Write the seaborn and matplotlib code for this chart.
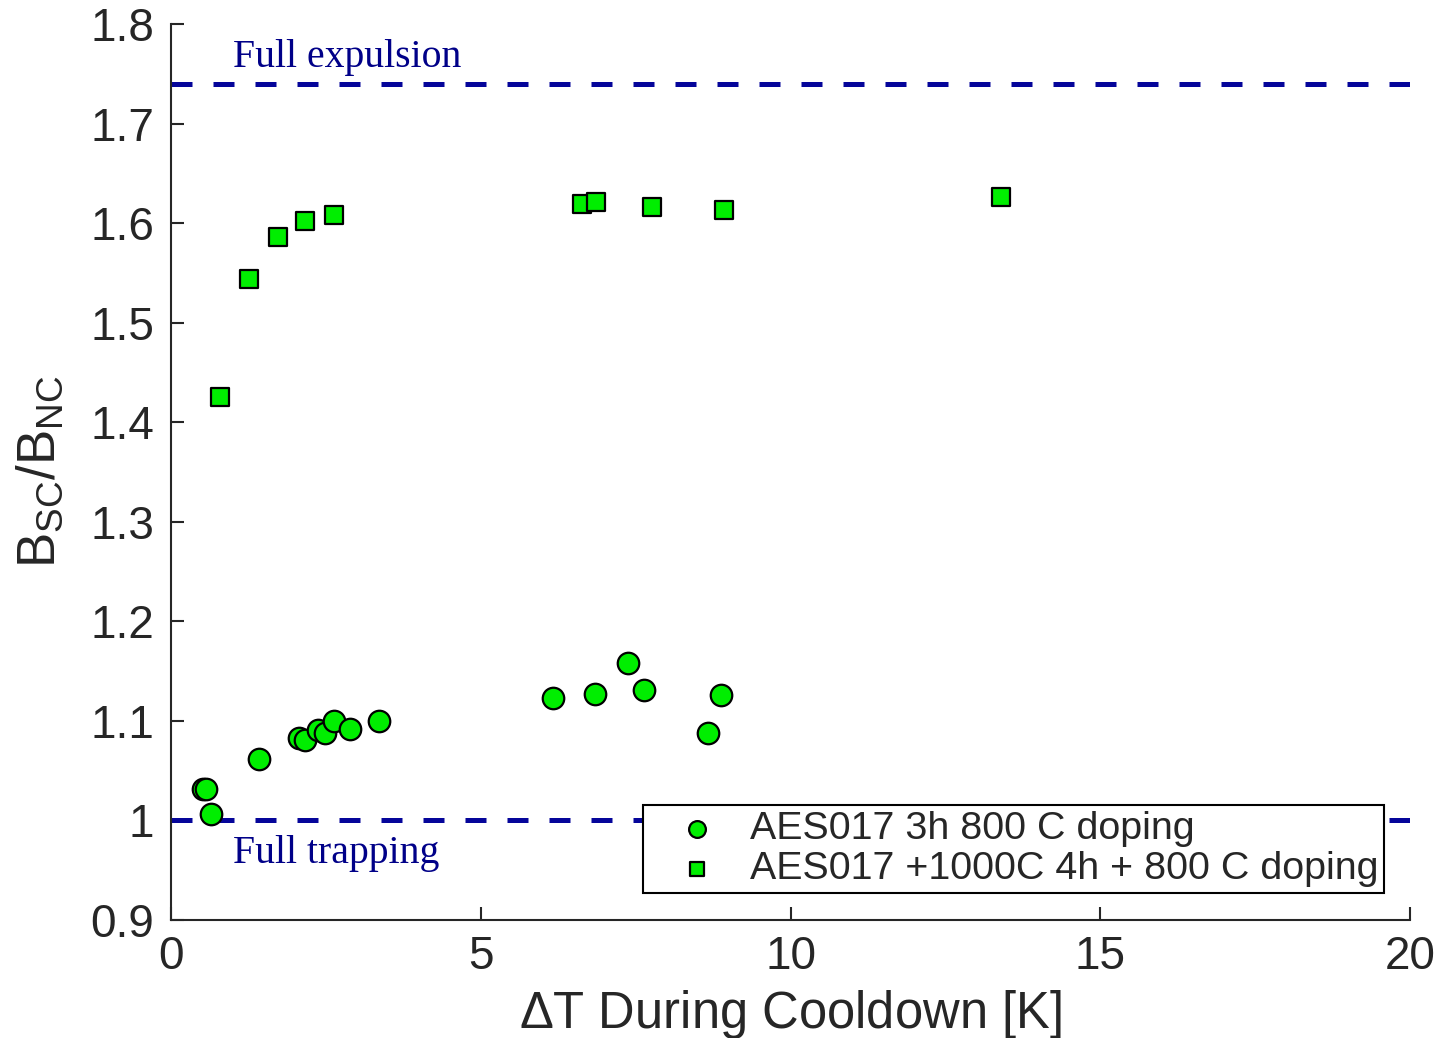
import matplotlib
matplotlib.use("Agg")
import matplotlib.pyplot as plt
import seaborn as sns
import pandas as pd

# Measurements: field ratio vs. temperature difference during cooldown
dt_3h = [0.52, 0.57, 0.65, 1.42, 2.07, 2.16, 2.37, 2.49, 2.63, 2.89, 3.36,
         6.16, 6.85, 7.37, 7.63, 8.66, 8.88]
ratio_3h = [1.032, 1.032, 1.006, 1.062, 1.083, 1.081, 1.091, 1.088, 1.100, 1.092, 1.100,
            1.123, 1.127, 1.158, 1.131, 1.088, 1.126]

dt_1000c = [0.79, 1.26, 1.73, 2.16, 2.63, 6.63, 6.86, 7.76, 8.92, 13.40]
ratio_1000c = [1.425, 1.544, 1.586, 1.602, 1.608, 1.619, 1.621, 1.616, 1.613, 1.626]

label_3h = "AES017 3h 800 C doping"
label_1000c = "AES017 +1000C 4h + 800 C doping"

full_expulsion = 1.74
full_trapping = 1.0

x_ticks = [0, 5, 10, 15, 20]
y_ticks = [0.9, 1.0, 1.1, 1.2, 1.3, 1.4, 1.5, 1.6, 1.7, 1.8]
y_tick_labels = ["0.9", "1", "1.1", "1.2", "1.3", "1.4", "1.5", "1.6", "1.7", "1.8"]

sns.set_style("ticks")
plt.rcParams["font.family"] = ["Liberation Sans", "DejaVu Sans"]
plt.rcParams["mathtext.fontset"] = "custom"
plt.rcParams["mathtext.rm"] = "Liberation Sans"
plt.rcParams["mathtext.it"] = "Liberation Sans"

axis_color = "#262626"
line_blue = "#05059a"
text_blue = "#000088"
green = "#00ee00"

df_3h = pd.DataFrame({"dt": dt_3h, "ratio": ratio_3h})
df_1000c = pd.DataFrame({"dt": dt_1000c, "ratio": ratio_1000c})

fig = plt.figure(figsize=(14.35, 10.38), dpi=100)
ax = fig.add_axes([0.1192, 0.1137, 0.8634, 0.8632])

ax.axhline(full_expulsion, color=line_blue, lw=3.6, dashes=(4.2, 4.2), zorder=1)
ax.axhline(full_trapping, color=line_blue, lw=3.6, dashes=(4.2, 4.2), zorder=1)

sns.scatterplot(data=df_3h, x="dt", y="ratio", ax=ax, marker="o", s=240,
                color=green, edgecolor="black", linewidth=1.6, label=label_3h, zorder=3)
sns.scatterplot(data=df_1000c, x="dt", y="ratio", ax=ax, marker="s", s=185,
                color=green, edgecolor="black", linewidth=1.6, label=label_1000c, zorder=3)

ax.text(1.0, 1.757, "Full expulsion", family=["Liberation Serif", "DejaVu Serif"],
        fontsize=28.6, color=text_blue, va="baseline", ha="left")
ax.text(1.0, 0.957, "Full trapping", family=["Liberation Serif", "DejaVu Serif"],
        fontsize=28.6, color=text_blue, va="baseline", ha="left")

ax.set_xlim(0, 20)
ax.set_ylim(0.9, 1.8)
ax.set_xticks(x_ticks)
ax.set_yticks(y_ticks)
ax.set_yticklabels(y_tick_labels)
ax.tick_params(direction="in", length=9.5, width=1.5, color=axis_color,
               labelcolor=axis_color, labelsize=33)
ax.tick_params(axis="y", pad=12)
ax.tick_params(axis="x", pad=11)

for side in ["top", "right"]:
    ax.spines[side].set_visible(False)
for side in ["left", "bottom"]:
    ax.spines[side].set_color(axis_color)
    ax.spines[side].set_linewidth(1.5)

ax.set_xlabel(r"$\Delta$T During Cooldown [K]", fontsize=36.5, color=axis_color, labelpad=6)
ax.set_ylabel(r"B$_{\mathrm{SC}}$/B$_{\mathrm{NC}}$", fontsize=38, color=axis_color, labelpad=18)

leg = ax.legend(loc="lower right", bbox_to_anchor=(0.979, 0.030), fontsize=28.4,
                frameon=True, fancybox=False, markerscale=0.78, handletextpad=0.1,
                labelspacing=0.1, borderpad=0.15, handlelength=2.45, borderaxespad=0)
leg.get_frame().set_edgecolor("black")
leg.get_frame().set_linewidth(1.5)
leg.get_frame().set_alpha(1)
leg.set_zorder(5)

fig.savefig("out.png", dpi=100)
